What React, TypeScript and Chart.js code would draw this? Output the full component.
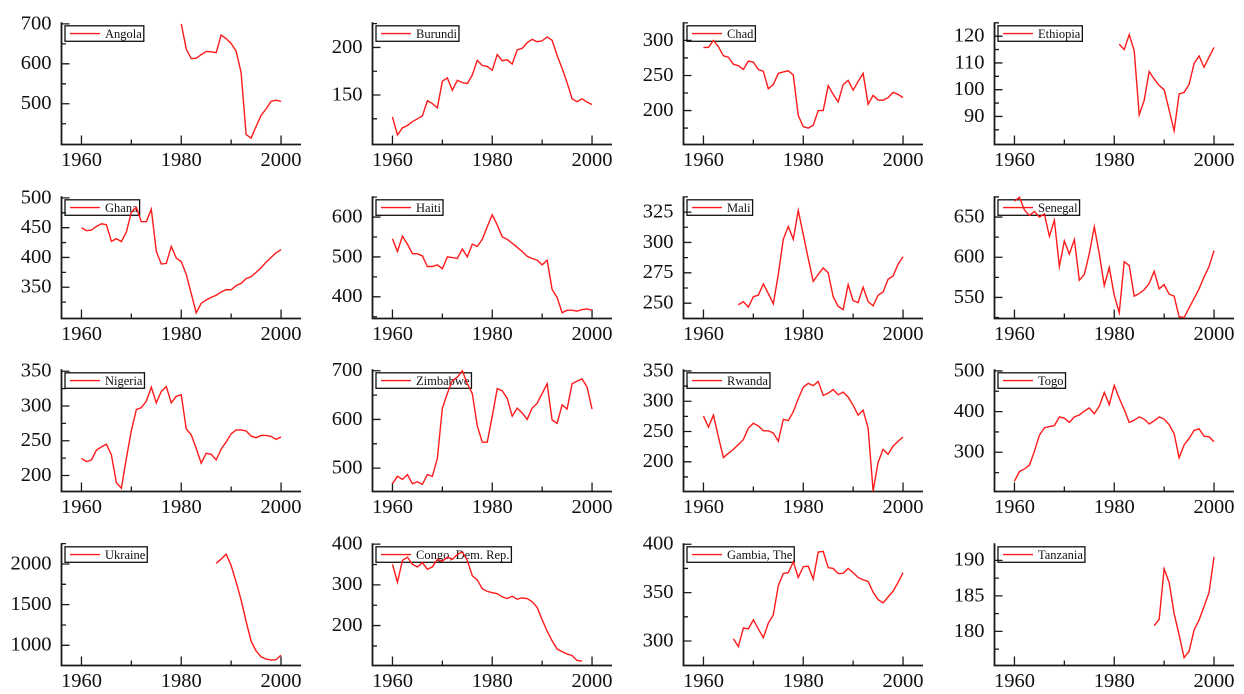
import React, { useEffect, useRef } from "react";
import { Chart, registerables } from "chart.js";
Chart.register(...registerables);

const YEARS = [
  1960, 1961, 1962, 1963, 1964, 1965, 1966, 1967, 1968, 1969,
  1970, 1971, 1972, 1973, 1974, 1975, 1976, 1977, 1978, 1979,
  1980, 1981, 1982, 1983, 1984, 1985, 1986, 1987, 1988, 1989,
  1990, 1991, 1992, 1993, 1994, 1995, 1996, 1997, 1998, 1999, 2000,
];

// series values start at the given year; earlier / later years are missing
const from = (start: number, vals: number[]) =>
  YEARS.map((yr) => (yr >= start && yr - start < vals.length ? vals[yr - start] : null));

const ANGOLA = from(1980, [700, 637, 613, 614, 623, 631, 630, 628, 672, 663, 651, 632, 578, 423, 414, 443, 471, 487, 506, 509, 506]);
const BURUNDI = from(1960, [127, 108, 115.5, 118, 122, 125, 128, 144, 141, 136.5, 164.5, 168, 155, 165.5, 163, 162, 171, 186.5, 181, 180, 176, 192.5, 186, 187, 182.5, 197.5, 199, 205, 208.5, 206, 207, 211, 207.5, 191.5, 178, 163, 146, 143, 146, 142.5, 140]);
const CHAD = from(1960, [290, 290, 300, 291, 278, 276, 266, 264, 258.5, 270.5, 269, 258.5, 256, 231, 237, 253, 255, 256.7, 250.7, 193, 177, 175, 179, 200, 200, 235.5, 223, 212.4, 237, 243, 229, 241.5, 253, 209, 221.7, 215, 214.7, 218.4, 226, 223, 218.4]);
const ETHIOPIA = from(1981, [117, 115, 120.6, 114.6, 90.6, 96, 106.8, 104, 101.6, 100, 92.4, 84.6, 98.4, 99, 102, 109.8, 112.6, 108.4, 112.2, 115.8]);
const GHANA = from(1960, [450, 445, 446, 452, 456.6, 455, 427, 431.5, 426.6, 442.7, 476, 484, 460, 460, 481, 410, 389, 390, 418.6, 399, 393, 371.5, 339.3, 307, 323, 328.6, 333, 336.6, 342, 346, 345.7, 352.7, 356.5, 364.5, 367.7, 375, 383, 392, 400, 408, 413]);
const HAITI = from(1960, [545.6, 513.6, 552, 532, 508, 508, 502.4, 476, 476, 480, 470.4, 500, 498.4, 496, 520, 500, 532, 526.4, 544, 576, 605.6, 580, 550.4, 544, 534.4, 524, 513.6, 501.6, 496, 492, 480, 492, 418.4, 398.4, 360, 366.4, 366.4, 364, 368, 369.6, 366.4]);
const MALI = from(1967, [248.7, 251.3, 246.8, 255.3, 256.6, 265.8, 257.9, 249.5, 273.7, 302.6, 313.2, 302.6, 326.3, 306.6, 286.8, 267.9, 273.7, 279, 275, 255.3, 247.4, 244.7, 265.3, 252.1, 250.5, 263.2, 251.3, 247.9, 256.6, 259.2, 269.7, 272.4, 282.1, 288.2]);
const SENEGAL = from(1960, [669.8, 674.6, 658.7, 652, 657, 650, 654, 626, 646, 588.5, 620.2, 604, 622, 571.4, 578.6, 604.4, 638, 604.4, 564.7, 587.3, 552.8, 531, 594.4, 589.7, 551.6, 554.8, 559.5, 567.5, 582.5, 560.7, 565.9, 554, 551.6, 526, 525, 536.9, 548.8, 560.7, 575.4, 588.5, 608.3]);
const NIGERIA = from(1960, [224.8, 220, 222.5, 236.5, 241.2, 245, 229.5, 189.7, 181.7, 224.8, 264.7, 295, 297.6, 307, 327, 304.5, 321, 328, 304.5, 314, 316.2, 267, 258.6, 239, 217.8, 232, 230.5, 222.5, 238, 248.3, 260, 265.6, 265.6, 264.2, 256.7, 254.4, 257.6, 257.6, 256.2, 252, 255.3]);
const ZIMBABWE = from(1960, [468, 483.3, 476.7, 486.7, 468, 472, 466.7, 486.7, 483.3, 520, 623.3, 653.3, 680, 686.7, 700, 673.3, 653.3, 586.7, 553.3, 553.3, 606.7, 663.3, 658.7, 643.3, 606.7, 623.3, 613.3, 600, 623.3, 633.3, 653.3, 673.3, 598.7, 592, 630, 621.3, 673.3, 678.7, 683.3, 666.7, 621.3]);
const RWANDA = from(1960, [275.5, 257.2, 277.1, 241, 207, 214, 220.5, 228.6, 236.7, 255.6, 263.7, 259.3, 251.2, 251.2, 247.5, 234, 270.1, 268, 282.5, 304.1, 323, 329.5, 325.7, 332.7, 309.5, 313.3, 319.2, 310.6, 315, 306.8, 293.3, 277.1, 285.2, 255.6, 152, 199, 220.5, 212.4, 225.9, 234, 241]);
const TOGO = from(1960, [228.9, 252.6, 259, 268.4, 302.4, 342, 360, 363.2, 365.6, 387, 383.8, 373.5, 387, 391.7, 401.2, 409, 394.9, 413, 447, 417, 464.4, 432.8, 405, 373.5, 379, 387, 381.4, 369.6, 377.5, 387, 381.4, 368, 345.8, 286.6, 318, 334, 353.8, 357.7, 339.5, 338, 326]);
const UKRAINE = from(1987, [2008, 2060, 2121, 1980, 1778, 1556, 1294, 1052, 931, 859, 831, 819, 823, 879]);
const CONGO = from(1960, [350.4, 306.4, 360, 368, 350.4, 344, 354.4, 338.4, 344, 362.4, 358.4, 368, 362.4, 374.4, 380.8, 360, 322.4, 312, 290.4, 284, 280.8, 278.4, 270.4, 266.4, 272, 264.8, 268, 266.4, 258.4, 244.8, 214.4, 186.4, 162.4, 142.4, 136, 130.4, 126.4, 114.4, 112.8]);
const GAMBIA = from(1966, [302.4, 294.3, 313.5, 312.5, 321.9, 312.5, 303.4, 318.5, 327, 357.2, 369.7, 370.7, 381.8, 365.7, 376.8, 377.4, 364, 392, 392.6, 375.8, 375, 369.7, 370, 375, 370.7, 365.7, 363.3, 361.6, 350.5, 342.8, 339.4, 345.5, 351.5, 360.6, 370.7]);
const TANZANIA = from(1988, [180.8, 181.7, 188.8, 186.9, 182.5, 179.5, 176.3, 177.2, 180.2, 181.6, 183.5, 185.5, 190.5]);

const COUNTRIES = [
  "Angola", "Burundi", "Chad", "Ethiopia",
  "Ghana", "Haiti", "Mali", "Senegal",
  "Nigeria", "Zimbabwe", "Rwanda", "Togo",
  "Ukraine", "Congo, Dem. Rep.", "Gambia, The", "Tanzania",
];
const SERIES = [
  ANGOLA, BURUNDI, CHAD, ETHIOPIA,
  GHANA, HAITI, MALI, SENEGAL,
  NIGERIA, ZIMBABWE, RWANDA, TOGO,
  UKRAINE, CONGO, GAMBIA, TANZANIA,
];

const Y_MIN = [398, 98, 151.6, 79.5, 297.5, 345.6, 237.4, 523.8, 177, 452, 151, 203.6, 752, 102, 274.7, 175.2];
const Y_MAX = [704, 226.4, 325.8, 125.2, 502.7, 652, 338, 675.8, 352.8, 703, 352.7, 504, 2254, 402, 401, 192.4];
const Y_TICKS = [
  [500, 600, 700], [150, 200], [200, 250, 300], [90, 100, 110, 120],
  [350, 400, 450, 500], [400, 500, 600], [250, 275, 300, 325], [550, 600, 650],
  [200, 250, 300, 350], [500, 600, 700], [200, 250, 300, 350], [300, 400, 500],
  [1000, 1500, 2000], [200, 300, 400], [300, 350, 400], [180, 185, 190],
];
const Y_MINOR = [
  [450, 550, 650], [125, 175, 225], [175, 225, 275, 325], [85, 95, 105, 115, 125],
  [325, 375, 425, 475], [350, 450, 550, 650], [262.5, 287.5, 312.5, 337.5], [525, 575, 625, 675],
  [225, 275, 325], [550, 650], [175, 225, 275, 325], [250, 350, 450],
  [1250, 1750, 2250], [150, 250, 350], [325, 375], [177.5, 182.5, 187.5],
];
const X_TICKS = [1960, 1980, 2000];
const X_MINOR = [1970, 1990];

const CELL_W = 311;
const CELL_H = 173.5;
const FONT = "'Liberation Serif', 'Times New Roman', serif";

const axesPlugin = {
  id: "panelAxes",
  beforeDatasetsDraw(chart: any) {
    const { ctx, chartArea: a, scales } = chart;
    const x = scales.x;
    const y = scales.y;
    const idx = chart.options.plugins.panelAxes.idx;
    ctx.save();
    ctx.strokeStyle = "#1a1a1a";
    ctx.lineWidth = 1.8;
    ctx.beginPath();
    ctx.moveTo(a.left, a.top);
    ctx.lineTo(a.left, a.bottom);
    ctx.lineTo(a.right, a.bottom);
    ctx.stroke();
    ctx.lineWidth = 1.3;
    ctx.beginPath();
    for (const v of Y_TICKS[idx]) {
      const py = y.getPixelForValue(v);
      ctx.moveTo(a.left, py);
      ctx.lineTo(a.left + 8, py);
    }
    for (const v of Y_MINOR[idx]) {
      const py = y.getPixelForValue(v);
      ctx.moveTo(a.left, py);
      ctx.lineTo(a.left + 4.5, py);
    }
    for (const v of X_TICKS) {
      const px = x.getPixelForValue(v);
      ctx.moveTo(px, a.bottom);
      ctx.lineTo(px, a.bottom - 9);
    }
    for (const v of X_MINOR) {
      const px = x.getPixelForValue(v);
      ctx.moveTo(px, a.bottom);
      ctx.lineTo(px, a.bottom - 5);
    }
    ctx.stroke();

    // legend box inside the plot
    const label = chart.data.datasets[0].label;
    ctx.font = `12.5px ${FONT}`;
    const tw = ctx.measureText(label).width;
    const bx = a.left + 3.5;
    const by = a.top + 3.5;
    const bh = 15.5;
    const bw = 40 + tw + 2;
    ctx.lineWidth = 1.3;
    ctx.strokeStyle = "#111";
    ctx.strokeRect(bx, by, bw, bh);
    ctx.strokeStyle = "#ff1a1a";
    ctx.lineWidth = 1.4;
    ctx.beginPath();
    ctx.moveTo(bx + 5, by + bh / 2);
    ctx.lineTo(bx + 35, by + bh / 2);
    ctx.stroke();
    ctx.fillStyle = "#111";
    ctx.textBaseline = "middle";
    ctx.textAlign = "left";
    ctx.fillText(label, bx + 40, by + bh / 2 + 1);
    ctx.restore();
  },
};

function Panel({ i }: { i: number }) {
  const ref = useRef<HTMLCanvasElement>(null);
  useEffect(() => {
    const vals = SERIES[i];
    const chart = new Chart(ref.current as HTMLCanvasElement, {
      type: "line",
      data: {
        datasets: [
          {
            label: COUNTRIES[i],
            data: YEARS.map((yr, k) => ({ x: yr, y: vals[k] })) as any,
            borderColor: "#ff1a1a",
            borderWidth: 1.4,
            pointRadius: 0,
            tension: 0,
            spanGaps: false,
          },
        ],
      },
      options: {
        animation: false,
        responsive: false,
        devicePixelRatio: 2,
        layout: { padding: { top: 17, right: 10, left: 0, bottom: 0 } },
        plugins: {
          legend: { display: false },
          tooltip: { enabled: false },
          panelAxes: { idx: i },
        } as any,
        scales: {
          x: {
            type: "linear",
            min: 1956,
            max: 2004,
            grid: { display: false, drawTicks: false },
            border: { display: false },
            afterBuildTicks: (s: any) => {
              s.ticks = X_TICKS.map((v) => ({ value: v }));
            },
            afterFit: (s: any) => {
              s.height = 29.5;
            },
            ticks: {
              font: { family: FONT, size: 20.5 },
              color: "#111",
              padding: 4,
              maxRotation: 0,
              autoSkip: false,
              callback: (v: any) => String(v),
            },
          },
          y: {
            type: "linear",
            min: Y_MIN[i],
            max: Y_MAX[i],
            grid: { display: false, drawTicks: false },
            border: { display: false },
            afterBuildTicks: (s: any) => {
              s.ticks = Y_TICKS[i].map((v) => ({ value: v }));
            },
            afterFit: (s: any) => {
              s.width = 61.5;
            },
            ticks: {
              font: { family: FONT, size: 20.5 },
              color: "#111",
              padding: 10,
              autoSkip: false,
              callback: (v: any) => String(v),
            },
          },
        },
      } as any,
      plugins: [axesPlugin as any],
    });
    return () => chart.destroy();
  }, [i]);
  const col = i % 4;
  const row = Math.floor(i / 4);
  return (
    <div
      style={{
        position: "absolute",
        left: col * CELL_W,
        top: row * CELL_H,
        width: CELL_W,
        height: 174,
      }}
    >
      <canvas ref={ref} width={CELL_W} height={174} />
    </div>
  );
}

export default function App() {
  return (
    <div
      style={{
        position: "absolute",
        left: 0,
        top: 0,
        width: 1244,
        height: 694,
        background: "#fff",
        overflow: "hidden",
      }}
    >
      {COUNTRIES.map((c, i) => (
        <Panel key={c} i={i} />
      ))}
    </div>
  );
}
